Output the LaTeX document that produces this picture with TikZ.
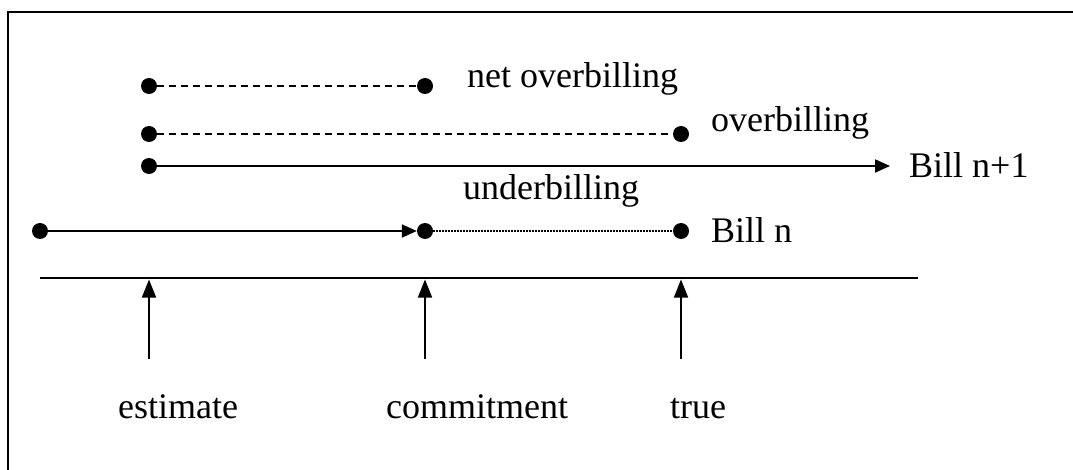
\documentclass[tikz,border=0pt]{standalone}
\usepackage{fontspec}
\setmainfont{Liberation Serif}
\usetikzlibrary{arrows.meta}
\tikzset{
  dot/.style={circle,fill=black,inner sep=0pt,minimum size=16pt},
  lbl/.style={inner sep=0pt,anchor=base west,font=\fontsize{36}{40}\selectfont},
  clbl/.style={inner sep=0pt,anchor=base,font=\fontsize{36}{40}\selectfont},
  solidarrow/.style={line width=2pt,-{Triangle[length=15pt,width=13pt]}},
  dashline/.style={line width=1.6pt,dash pattern=on 7pt off 5pt},
  dotline/.style={line width=1.2pt,dash pattern=on 1.5pt off 1.5pt},
  uparrow/.style={line width=1.6pt,-{Triangle[length=18pt,width=14pt]}},
}
\begin{document}
\begin{tikzpicture}[x=1pt,y=-1pt]
\useasboundingbox (0,0) rectangle (1073,470);
% frame (only top and left edges visible)
\draw[line width=2.5pt] (8,470) |- (1073,12);

% net overbilling
\node[dot] (n1a) at (149,86) {};
\node[dot] (n1b) at (425,86) {};
\draw[dashline] (n1a) -- (n1b);
\node[lbl] (tnet) at (467,88) {net overbilling};

% overbilling
\node[dot] (o1a) at (149,134) {};
\node[dot] (o1b) at (681,134) {};
\draw[dashline] (o1a) -- (o1b);
\node[lbl] (tover) at (711,132) {overbilling};

% Bill n+1
\node[dot] (b1a) at (149,166) {};
\coordinate (b1end) at (890,166);
\draw[solidarrow] (b1a) -- (b1end);
\node[lbl] (tb1) at (909,178) {Bill n+1};

% underbilling
\node[lbl] (tunder) at (463,200) {underbilling};

% Bill n
\node[dot] (bn0) at (40,231) {};
\node[dot] (bn1) at (425,231) {};
\node[dot] (bn2) at (681,231) {};
\draw[solidarrow] (bn0) -- (bn1);
\draw[dotline] (bn1) -- (bn2);
\node[lbl] (tbn) at (711,243) {Bill n};

% axis
\coordinate (ax0) at (40,278);
\coordinate (ax1) at (918,278);
\draw[line width=2.5pt] (ax0) -- (ax1);

% up arrows
\coordinate (e0) at (149,359); \coordinate (e1) at (149,279.5);
\coordinate (c0) at (425,359); \coordinate (c1) at (425,279.5);
\coordinate (t0) at (681,359); \coordinate (t1) at (681,279.5);
\draw[uparrow] (e0) -- (e1);
\draw[uparrow] (c0) -- (c1);
\draw[uparrow] (t0) -- (t1);

\node[clbl] (test) at (178,418) {estimate};
\node[clbl] (tcom) at (477,418) {commitment};
\node[clbl] (ttrue) at (698,418) {true};
\end{tikzpicture}
\end{document}
